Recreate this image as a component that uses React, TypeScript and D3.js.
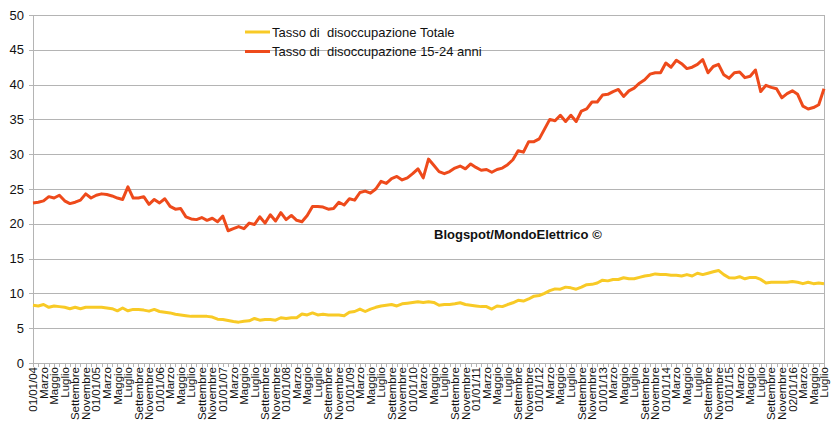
import React from "react";
import * as d3 from "d3";

// Monthly data Jan 2004 .. Jul 2016
const youthRate: number[] = [
  23.0, 23.1, 23.3, 23.9, 23.7, 24.1, 23.3, 22.9, 23.1, 23.4, 24.3, 23.7,
  24.1, 24.3, 24.2, 24.0, 23.7, 23.5, 25.3, 23.7, 23.7, 23.9, 22.8, 23.5,
  23.0, 23.6, 22.5, 22.1, 22.2, 21.0, 20.7, 20.6, 20.9, 20.5, 20.8, 20.3,
  21.1, 19.0, 19.3, 19.6, 19.3, 20.1, 19.9, 21.0, 20.1, 21.3, 20.4, 21.6,
  20.6, 21.2, 20.5, 20.3, 21.2, 22.5, 22.5, 22.4, 22.1, 22.2, 23.1, 22.7,
  23.6, 23.4, 24.5, 24.7, 24.4, 25.0, 26.1, 25.8, 26.5, 26.8, 26.3, 26.6,
  27.2, 27.9, 26.6, 29.3, 28.4, 27.5, 27.2, 27.5, 28.0, 28.3, 27.9, 28.6,
  28.1, 27.7, 27.8, 27.4, 27.8, 28.0, 28.5, 29.2, 30.5, 30.3, 31.8, 31.8,
  32.2, 33.6, 35.0, 34.8, 35.6, 34.7, 35.6, 34.7, 36.2, 36.5, 37.5, 37.5,
  38.5, 38.6, 39.0, 39.3, 38.3, 39.1, 39.5, 40.2, 40.7, 41.5, 41.7, 41.7,
  43.1, 42.5, 43.5, 43.0, 42.3, 42.5, 42.9, 43.6, 41.7, 42.6, 42.9, 41.4,
  40.9, 41.7, 41.8, 41.0, 41.2, 42.1, 39.0, 39.9, 39.6, 39.4, 38.1, 38.7,
  39.1, 38.6, 36.9, 36.5, 36.7, 37.1, 39.4,
];

const totalRate: number[] = [
  8.3, 8.2, 8.4, 8.0, 8.2, 8.1, 8.0, 7.8, 8.0, 7.8, 8.0, 8.0,
  8.0, 8.0, 7.9, 7.8, 7.5, 7.9, 7.5, 7.7, 7.7, 7.6, 7.45, 7.7,
  7.4, 7.3, 7.2, 7.0, 6.9, 6.8, 6.7, 6.7, 6.7, 6.7, 6.6, 6.3,
  6.25, 6.1, 5.96, 5.87, 6.0, 6.06, 6.4, 6.15, 6.25, 6.25, 6.15, 6.5,
  6.4, 6.5, 6.5, 7.05, 6.9, 7.2, 6.9, 7.0, 6.9, 6.9, 6.9, 6.8,
  7.3, 7.4, 7.75, 7.4, 7.75, 8.0, 8.2, 8.3, 8.4, 8.2, 8.5, 8.6,
  8.7, 8.8, 8.7, 8.8, 8.7, 8.3, 8.4, 8.4, 8.5, 8.65, 8.4, 8.3,
  8.2, 8.1, 8.1, 7.75, 8.2, 8.1, 8.4, 8.65, 9.0, 8.9, 9.2, 9.6,
  9.7, 10.0, 10.4, 10.65, 10.6, 10.9, 10.8, 10.6, 10.9, 11.25, 11.3, 11.5,
  11.9, 11.8, 12.0, 12.0, 12.25, 12.1, 12.1, 12.3, 12.5, 12.6, 12.8, 12.7,
  12.7, 12.6, 12.6, 12.5, 12.7, 12.5, 12.9, 12.7, 12.9, 13.1, 13.3, 12.7,
  12.25, 12.2, 12.4, 12.1, 12.3, 12.3, 12.0, 11.5, 11.6, 11.6, 11.6, 11.6,
  11.7, 11.6, 11.4, 11.6, 11.4, 11.5, 11.4,
];

const yearLabels: string[] = [
  "01/01/04", "01/01/05", "01/01/06", "01/01/07", "01/01/08", "01/01/09",
  "01/01/10", "01/01/11", "01/01/12", "01/01/13", "01/01/14", "01/01/15",
  "02/01/16",
];
const monthLabels: string[] = ["Marzo", "Maggio", "Luglio", "Settembre", "Novembre"];
const yTicks: number[] = [0, 5, 10, 15, 20, 25, 30, 35, 40, 45, 50];

const seriesNames: string[] = [
  "Tasso di  disoccupazione Totale",
  "Tasso di  disoccupazione 15-24 anni",
];
const watermark = "Blogspot/MondoElettrico ©";

const W = 835;
const H = 429;
const left = 33;
const right = 824;
const top = 15;
const bottom = 363;
const RED = "#ee4a1b";
const YELLOW = "#f8ca26";
const GRID = "#b4b4b4";
const FONT = "'Liberation Sans', Arial, sans-serif";

export default function App() {
  const n = youthRate.length;
  const x = d3.scaleLinear().domain([0, n - 1]).range([left, right]);
  const y = d3.scaleLinear().domain([0, 50]).range([bottom, top]);

  // build category labels every two months
  const labels: { i: number; text: string }[] = [];
  for (let i = 0; i < n; i += 2) {
    const yr = Math.floor(i / 12);
    const m = i % 12;
    const text = m === 0 ? yearLabels[yr] : monthLabels[m / 2 - 1];
    labels.push({ i, text });
  }

  const line = d3
    .line<number>()
    .x((_, i) => x(i))
    .y((d) => y(d));

  return (
    <svg
      width={W}
      height={H}
      style={{ position: "absolute", left: 0, top: 0, background: "#fff" }}
      fontFamily={FONT}
    >
      <rect x={0} y={0} width={W} height={H} fill="#fff" />
      {/* gridlines */}
      {yTicks.map((t) =>
        t === 0 ? null : (
          <line
            key={"g" + t}
            x1={left}
            x2={right}
            y1={Math.round(y(t)) + 0.5}
            y2={Math.round(y(t)) + 0.5}
            stroke={GRID}
            strokeWidth={1}
          />
        )
      )}
      {/* right border */}
      <line x1={right + 0.5} x2={right + 0.5} y1={top} y2={bottom} stroke={GRID} />
      {/* axes */}
      <line x1={left + 0.5} x2={left + 0.5} y1={top} y2={bottom} stroke={GRID} />
      <line x1={left} x2={right} y1={bottom + 0.5} y2={bottom + 0.5} stroke={GRID} />
      {/* y ticks and labels */}
      {yTicks.map((t) => (
        <g key={"y" + t}>
          <line
            x1={left - 4}
            x2={left}
            y1={Math.round(y(t)) + 0.5}
            y2={Math.round(y(t)) + 0.5}
            stroke={GRID}
          />
          <text
            x={24}
            y={y(t)}
            dy="0.36em"
            textAnchor="end"
            fontSize={13}
            fill="#111"
          >
            {t}
          </text>
        </g>
      ))}
      {/* x ticks every month */}
      {youthRate.map((_, i) => (
        <line
          key={"xt" + i}
          x1={Math.round(x(i)) + 0.5}
          x2={Math.round(x(i)) + 0.5}
          y1={bottom}
          y2={bottom + 4}
          stroke={GRID}
        />
      ))}
      {/* x labels */}
      {labels.map((l) => (
        <text
          key={"xl" + l.i}
          transform={`translate(${x(l.i)},${bottom + 4}) rotate(-90)`}
          textAnchor="end"
          dy="0.36em"
          fontSize={11.5}
          fill="#111"
        >
          {l.text}
        </text>
      ))}
      {/* series */}
      <path d={line(totalRate) || ""} fill="none" stroke={YELLOW} strokeWidth={3} strokeLinejoin="round" />
      <path d={line(youthRate) || ""} fill="none" stroke={RED} strokeWidth={3} strokeLinejoin="round" />
      {/* legend */}
      {[YELLOW, RED].map((c, k) => (
        <g key={"lg" + k}>
          <line x1={245} x2={270} y1={32 + k * 19.5} y2={32 + k * 19.5} stroke={c} strokeWidth={3} />
          <text
            x={272}
            y={32 + k * 19.5}
            dy="0.36em"
            fontSize={13}
            fill="#111"
            style={{ whiteSpace: "pre" }}
          >
            {seriesNames[k]}
          </text>
        </g>
      ))}
      {/* watermark */}
      <text x={434} y={239} fontSize={13} fontWeight="bold" fill="#111">
        {watermark}
      </text>
    </svg>
  );
}
